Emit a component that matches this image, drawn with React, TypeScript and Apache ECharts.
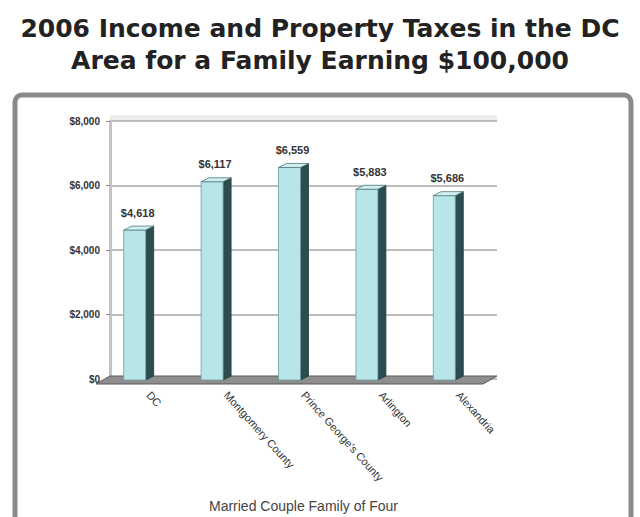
import React, { useEffect, useRef } from "react";
import * as echarts from "echarts";

const titleLines = ["2006 Income and Property Taxes in the DC", "Area for a Family Earning $100,000"];
const categories = ["DC", "Montgomery County", "Prince George's County", "Arlington", "Alexandria"];
const taxes = [4618, 6117, 6559, 5883, 5686];
const yTicks = [0, 2000, 4000, 6000, 8000];
const axisTitle = "Married Couple Family of Four";

const fmt = (v: number) => "$" + v.toLocaleString("en-US");

export default function App() {
  const ref = useRef<HTMLDivElement>(null);
  useEffect(() => {
    if (!ref.current) return;
    const chart = echarts.init(ref.current, null, { renderer: "svg" });
    const font = "Liberation Sans, Arial, sans-serif";
    chart.setOption({
      animation: false,
      backgroundColor: "#ffffff",
      title: {
        text: titleLines.join("\n"),
        left: "center",
        top: 7,
        textStyle: { fontFamily: "DejaVu Sans", fontSize: 25, fontWeight: "bold", color: "#222", lineHeight: 32 },
      },
      graphic: [
        {
          type: "rect",
          shape: { x: 15, y: 95, width: 616, height: 440, r: 7 },
          style: { fill: "none", stroke: "#8a8a8a", lineWidth: 5 },
          z: 0,
        },
        {
          type: "rect",
          shape: { x: 110, y: 115, width: 387, height: 6 },
          style: { fill: "#ececec" },
          z: 0,
        },
        {
          type: "polygon",
          shape: { points: [[96, 384], [483, 384], [497, 376], [110, 376]] },
          style: { fill: "#8e8e8e", stroke: "#5a5a5a", lineWidth: 1 },
          z: 1,
        },
      ],
      grid: { left: 110, right: 143, top: 121, bottom: 138, containLabel: false },
      xAxis: {
        type: "category",
        data: categories,
        axisLine: { show: false },
        axisTick: { show: false },
        axisLabel: {
          rotate: -48,
          margin: 14,
          fontFamily: font,
          fontSize: 11,
          color: "#333",
          interval: 0,
        },
        name: axisTitle,
        nameLocation: "middle",
        nameGap: 120,
        nameTextStyle: { fontFamily: font, fontSize: 14, color: "#444", padding: [0, 0, 0, 0] },
      },
      yAxis: {
        type: "value",
        min: 0,
        max: 8000,
        interval: 2000,
        axisLine: { show: true, lineStyle: { color: "#c4c4c4", width: 3 } },
        axisTick: { show: true, length: 4, lineStyle: { color: "#888" } },
        splitLine: { show: true, lineStyle: { color: "#a8a8a8", width: 1.5 } },
        axisLabel: {
          margin: 10,
          fontFamily: font,
          fontSize: 10,
          fontWeight: "bold",
          color: "#333",
          formatter: (v: number) => (yTicks.includes(v) ? fmt(v) : ""),
        },
      },
      series: [
        {
          type: "custom",
          z: 5,
          data: taxes.map((v, i) => [i, v]),
          encode: { x: 0, y: 1 },
          renderItem: (params: any, api: any) => {
            const idx = api.value(0);
            const val = api.value(1);
            const top = api.coord([idx, val]);
            const base = api.coord([idx, 0]);
            const cx = top[0] - 14;
            const w = 22;
            const d = 8;
            const dy = 4;
            const l = cx - w / 2;
            const r = cx + w / 2;
            const ty = top[1];
            const by = base[1] + 1;
            return {
              type: "group",
              children: [
                {
                  type: "polygon",
                  shape: { points: [[r, ty], [r + d, ty - dy], [r + d, by - dy], [r, by]] },
                  style: { fill: "#2c4d4f", stroke: "#223b3c", lineWidth: 0.8 },
                },
                {
                  type: "rect",
                  shape: { x: l, y: ty, width: w, height: by - ty },
                  style: { fill: "#b8e5e8", stroke: "#6f9c9e", lineWidth: 0.8 },
                },
                {
                  type: "polygon",
                  shape: { points: [[l, ty], [l + d, ty - dy], [r + d, ty - dy], [r, ty]] },
                  style: { fill: "#cfeff1", stroke: "#4f7a7c", lineWidth: 0.8 },
                },
                {
                  type: "text",
                  style: {
                    text: fmt(val),
                    x: cx + 3,
                    y: ty - 12,
                    align: "center",
                    verticalAlign: "bottom",
                    font: "bold 11px " + font,
                    fill: "#333",
                  },
                },
              ],
            };
          },
        },
      ],
    });
    return () => chart.dispose();
  }, []);
  return (
    <div
      ref={ref}
      style={{ position: "fixed", left: 0, top: 0, width: 640, height: 517 }}
    />
  );
}
